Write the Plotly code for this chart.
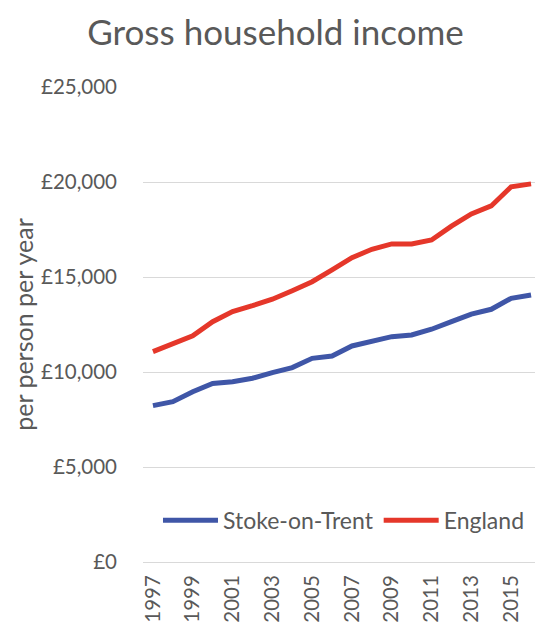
import plotly.graph_objects as go

years = list(range(1997, 2017))

stoke = [8230, 8440, 8960, 9400, 9490, 9670, 9970, 10230, 10720, 10840,
         11370, 11600, 11860, 11950, 12250, 12650, 13050, 13300, 13880, 14050]
england = [11070, 11470, 11900, 12650, 13180, 13490, 13830, 14280, 14750, 15370,
           16020, 16460, 16740, 16740, 16950, 17680, 18320, 18740, 19750, 19900]

tick_years = list(range(1997, 2017, 2))

FONT = "Lato, 'Open Sans', sans-serif"
GREY = "#595959"

fig = go.Figure()
fig.add_trace(go.Scatter(x=years, y=stoke, name="Stoke-on-Trent", mode="lines",
                         line=dict(color="#3F56A7", width=5)))
fig.add_trace(go.Scatter(x=years, y=england, name="England", mode="lines",
                         line=dict(color="#E5372A", width=5)))

# page body has an 8px margin, so the figure is a little smaller than the window
fig.update_layout(
    width=535, height=618,
    margin=dict(l=135, r=2, t=79, b=64, autoexpand=False),
    paper_bgcolor="white", plot_bgcolor="white",
    font=dict(family=FONT, color=GREY, size=20),
    title=dict(text="Gross household income", x=0.5, xanchor="center",
               y=0.96, yanchor="middle", font=dict(size=35, color=GREY)),
    legend=dict(orientation="h", x=0.505, xanchor="center", y=0.088, yanchor="middle",
                font=dict(size=23, color=GREY), bgcolor="rgba(0,0,0,0)",
                itemwidth=55),
    showlegend=True,
)
fig.update_xaxes(range=[1996.5, 2016.5], tickvals=tick_years, tickangle=-90,
                 showgrid=False, showline=True, linecolor="#D9D9D9", linewidth=1,
                 ticks="", automargin=False, ticklabelstandoff=4,
                 tickfont=dict(size=20.5, color=GREY))
fig.update_yaxes(range=[0, 25000], dtick=5000, tickprefix="£", tickformat=",d",
                 gridcolor="#D9D9D9", gridwidth=1, zeroline=False, showline=False,
                 ticks="", ticklabelstandoff=25, automargin=False,
                 title=dict(text="per person per year", font=dict(size=25, color=GREY), standoff=6),
                 tickfont=dict(size=20.5, color=GREY))

fig.write_html("out.html")
